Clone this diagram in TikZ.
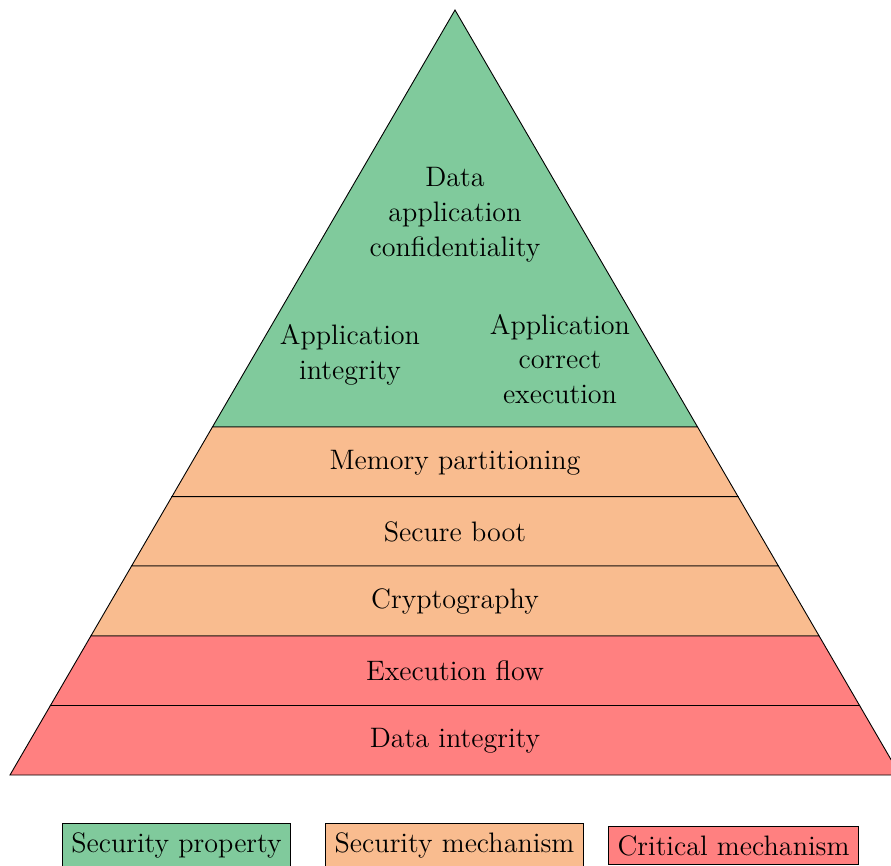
\documentclass[tikz,border=0pt]{standalone}
\usetikzlibrary{calc}
\definecolor{propgreen}{RGB}{128,202,156}
\definecolor{mechorange}{RGB}{249,188,143}
\definecolor{critred}{RGB}{255,128,128}
\begin{document}
\begin{tikzpicture}[
  x=0.4444pt, y=-0.4444pt,
  every node/.style={font=\fontsize{12.5}{15.5}\selectfont, align=center},
  layer/.style={draw, line join=miter},
  legend/.style={draw, inner sep=4pt}
]
\useasboundingbox (0,0) rectangle (891,865);
\coordinate (top) at (455,10);
\coordinate (bl) at (10,775);
\coordinate (br) at (900,775);
% pyramid layers (fractions along the sides)
\foreach \a/\b/\c in {0/0.5451/propgreen, 0.5451/0.6361/mechorange,
  0.6361/0.7268/mechorange, 0.7268/0.8183/mechorange,
  0.8183/0.9092/critred, 0.9092/1/critred} {
  \filldraw[layer, fill=\c] ($(top)!\a!(bl)$) -- ($(top)!\b!(bl)$)
    -- ($(top)!\b!(br)$) -- ($(top)!\a!(br)$) -- cycle;
}
% properties
\node (conf) at (455,215) {Data\\application\\confidentiality};
\node (integ) at (350,355) {Application\\integrity};
\node (exec) at (560,359) {Application\\correct\\execution};
% mechanisms
\node (mem) at (455,462.5) {Memory partitioning};
\node (boot) at (455,531.5) {Secure boot};
\node (crypto) at (455,601) {Cryptography};
\node (flow) at (455,671) {Execution flow};
\node (dataint) at (455,740.5) {Data integrity};
% legend
\node[legend, fill=propgreen] (legprop) at (176.5,845.5) {Security property};
\node[legend, fill=mechorange] (legmech) at (454.5,845.5) {Security mechanism};
\node[legend, fill=critred] (legcrit) at (733.5,845.5) {Critical mechanism};
\end{tikzpicture}
\end{document}
